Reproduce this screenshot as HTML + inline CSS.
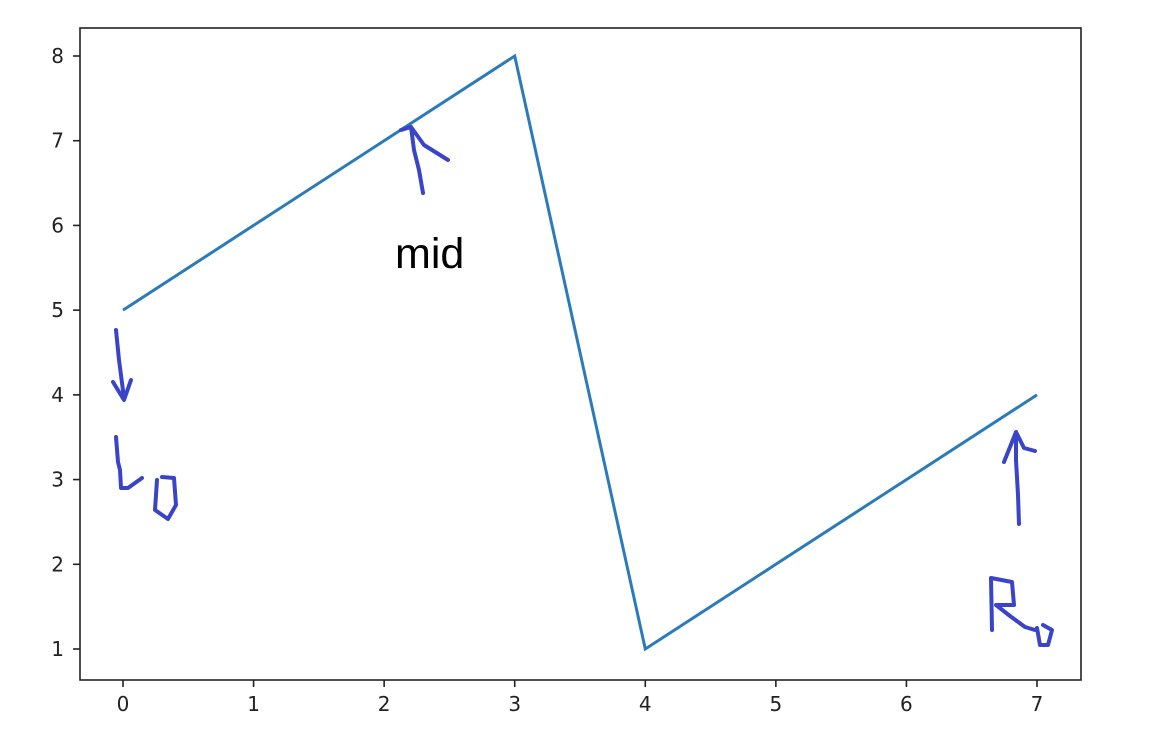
<!DOCTYPE html>
<html><head><meta charset="utf-8"><style>
html,body{margin:0;padding:0;background:#fff;}
svg{display:block;font-family:"DejaVu Sans","Liberation Sans",sans-serif;}
</style></head><body>
<svg id="chart" width="1150" height="752">
<rect x="80" y="28" width="1001" height="652" fill="#fff" stroke="#222" stroke-width="1.6"/>
<g id="xticks"></g>
<g id="yticks"></g>
<path id="line" fill="none" stroke="#2b7bba" stroke-width="3"/>
<text x="395" y="268" font-family="Liberation Sans,sans-serif" font-size="43" fill="#000">mid</text>
<g fill="none" stroke="#3a44c8" stroke-width="4" stroke-linecap="round" stroke-linejoin="round">
<path d="M116 330 L119 360 L124 398 M113 382 L124 400 L131 380"/>
<path d="M116 437 L118 462 L120 470 L121 488 L128 488 L142 478"/>
<path d="M157 480 L155 510 L168 519 L176 505 L174 478 L162 477"/>
<path d="M423 193 L419 170 L414 150 L411 127 L401 130 M411 127 L424 145 L448 160"/>
<path d="M1019 524 L1018 495 L1016 460 L1016 432 L1004 462 M1016 432 L1024 448 L1035 451"/>
<path d="M992 630 L991 578 L1012 582 L1014 605 L996 605 L1010 616 L1025 627 L1035 630"/>
<path d="M1037 628 L1040 645 L1048 645 L1052 630 L1043 625"/>
</g>
</svg>
<script>
const xValues = [0,1,2,3,4,5,6,7];
const yValues = [5,6,7,8,1,2,3,4];
const xTicks = [0,1,2,3,4,5,6,7];
const yTicks = [1,2,3,4,5,6,7,8];
const NS="http://www.w3.org/2000/svg";
function sx(v){return 123+v*(1037-123)/7;}
function sy(v){return 649-(v-1)*(649-56)/7;}
let d="";
xValues.forEach((x,i)=>{d+=(i?"L":"M")+sx(x)+" "+sy(yValues[i])+" ";});
document.getElementById("line").setAttribute("d",d);
const xg=document.getElementById("xticks"),yg=document.getElementById("yticks");
xTicks.forEach(t=>{
 const l=document.createElementNS(NS,"line");
 l.setAttribute("x1",sx(t));l.setAttribute("x2",sx(t));l.setAttribute("y1",680);l.setAttribute("y2",687);
 l.setAttribute("stroke","#222");l.setAttribute("stroke-width","1.6");
 
 
 xg.appendChild(l);
 const tx=document.createElementNS(NS,"text");
 tx.setAttribute("x",sx(t));tx.setAttribute("y",711);tx.setAttribute("text-anchor","middle");
 tx.setAttribute("font-size","20");tx.setAttribute("fill","#222");tx.textContent=t;
 
 
 xg.appendChild(tx);
});
yTicks.forEach(t=>{
 const l=document.createElementNS(NS,"line");
 l.setAttribute("x1",73);l.setAttribute("x2",80);l.setAttribute("y1",sy(t));l.setAttribute("y2",sy(t));
 l.setAttribute("stroke","#222");l.setAttribute("stroke-width","1.6");
 
 
 yg.appendChild(l);
 const tx=document.createElementNS(NS,"text");
 tx.setAttribute("x",64);tx.setAttribute("y",sy(t)+7);tx.setAttribute("text-anchor","end");
 tx.setAttribute("font-size","20");tx.setAttribute("fill","#222");tx.textContent=t;
 
 
 yg.appendChild(tx);
});
</script>
</body></html>
